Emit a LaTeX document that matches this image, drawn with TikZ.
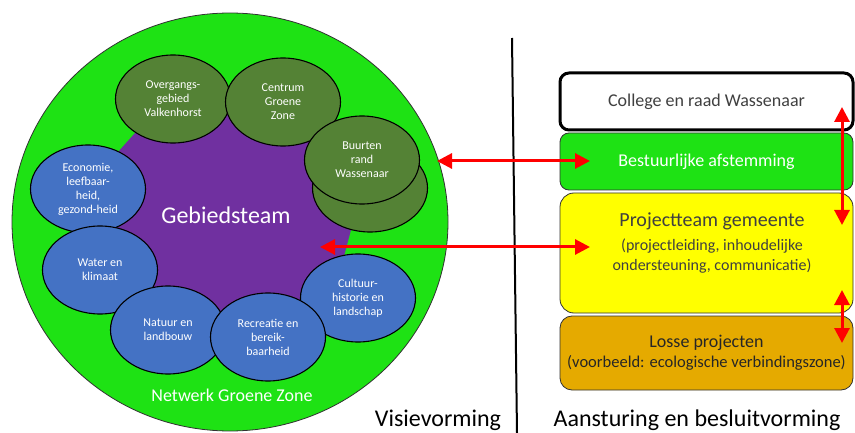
\documentclass[tikz,border=0pt]{standalone}
\usepackage{fontspec}
\setmainfont{Carlito}
\usetikzlibrary{shapes.geometric,arrows.meta}
\definecolor{brightgreen}{RGB}{30,226,20}
\definecolor{gpurple}{RGB}{112,48,160}
\definecolor{olivegreen}{RGB}{84,130,53}
\definecolor{gblue}{RGB}{68,114,196}
\definecolor{gyellow}{RGB}{255,255,0}
\definecolor{ggold}{RGB}{229,170,0}
\definecolor{txtgray}{RGB}{64,64,64}
\definecolor{edgegray}{RGB}{50,50,50}
\begin{document}
\begin{tikzpicture}[x=1pt,y=-1pt,
  topic/.style={ellipse, draw=black, line width=1.1pt, minimum width=115pt, minimum height=88pt,
    inner sep=0pt, text=white, align=center, font=\fontsize{12}{14}\selectfont},
  olivetopic/.style={topic, fill=olivegreen},
  bluetopic/.style={topic, fill=gblue},
  stackbox/.style={rectangle, rounded corners=9pt, minimum width=293pt, inner sep=0pt,
    align=center, draw=edgegray, line width=0.8pt},
  redarrow/.style={draw=red, line width=3pt,
    {Triangle[length=15pt,width=15pt]}-{Triangle[length=15pt,width=15pt]}},
]
\path[use as bounding box, fill=white] (0,0) rectangle (855,433);

% big green circle
\node[ellipse, fill=brightgreen, draw=edgegray, line width=0.8pt,
  minimum width=436pt, minimum height=418pt, inner sep=0pt] (net) at (230,222) {};

% purple core
\fill[gpurple] (160,105) -- (300,105) -- (355,215) -- (335,290) -- (230,330)
  -- (140,300) -- (115,230) -- (118,152) -- cycle;

% topic ellipses
\node[olivetopic] (overgang) at (173,99) {Overgangs-\\gebied\\Valkenhorst};
\node[olivetopic] (centrum) at (283,102) {Centrum\\Groene\\Zone};
\node[olivetopic] (buurtback) at (370,188) {};
\node[olivetopic] (buurten) at (362,160) {Buurten\\rand\\Wassenaar};
\node[bluetopic] (economie) at (88,189) {Economie,\\leefbaar-\\heid,\\gezond-heid};
\node[bluetopic] (water) at (100,270) {Water en\\klimaat};
\node[bluetopic] (natuur) at (168,330) {Natuur en\\landbouw};
\node[bluetopic] (cultuur) at (358,298) {Cultuur-\\historie en\\landschap};
\node[bluetopic] (recreatie) at (268,337) {Recreatie en\\bereik-\\baarheid};

\node[text=white, font=\fontsize{24}{28}\selectfont] (gebied) at (226,215) {Gebiedsteam};
\node[text=white, font=\fontsize{18}{22}\selectfont] (netlabel) at (232,395) {Netwerk Groene Zone};

% divider
\coordinate (divtop) at (512,38);
\coordinate (divbot) at (517,433);
\draw[black, line width=2pt] (divtop) -- (divbot);

\node[font=\fontsize{24}{28}\selectfont, anchor=base, inner sep=0pt] (visie) at (438,426) {Visievorming};
\node[font=\fontsize{24}{28}\selectfont, anchor=base, inner sep=0pt] (aanst) at (697,426) {Aansturing en besluitvorming};

% right-hand stack
\node[stackbox, draw=black, line width=3pt, fill=white, minimum height=57pt, text=txtgray,
  font=\fontsize{18}{22}\selectfont] (college) at (706.5,101.5) {College en raad Wassenaar};
\node[stackbox, fill=brightgreen, minimum height=57pt, text=white,
  font=\fontsize{18}{22}\selectfont] (bestuur) at (706.5,161.5) {Bestuurlijke afstemming};
\node[stackbox, rounded corners=14pt, fill=gyellow, minimum height=120pt] (project) at (706.5,253) {};
\node[text=txtgray, font=\fontsize{20}{24}\selectfont, anchor=base] (projtitle) at (712,226) {Projectteam gemeente};
\node[text=txtgray, font=\fontsize{16}{20}\selectfont, align=center, anchor=north] (projsub) at (712,235)
  {(projectleiding, inhoudelijke\\ondersteuning, communicatie)};
\node[stackbox, rounded corners=12pt, fill=ggold, minimum height=74pt, text=black!85,
  font=\fontsize{16.5}{20}\selectfont] (losse) at (706.5,353)
  {{\fontsize{18}{20}\selectfont Losse projecten}\\(voorbeeld: ecologische verbindingszone)};

% red arrows
\coordinate (a1l) at (437,161);
\coordinate (a1r) at (590,161);
\coordinate (a2l) at (320,247);
\coordinate (a2r) at (590,247);
\draw[redarrow] (a1l) -- (a1r);
\draw[redarrow] (a2l) -- (a2r);
\coordinate (v1t) at (842,107);
\coordinate (v1b) at (842,225);
\coordinate (v2t) at (842,290);
\coordinate (v2b) at (842,343);
\draw[redarrow] (v1t) -- (v1b);
\draw[redarrow] (v2t) -- (v2b);
\end{tikzpicture}
\end{document}
